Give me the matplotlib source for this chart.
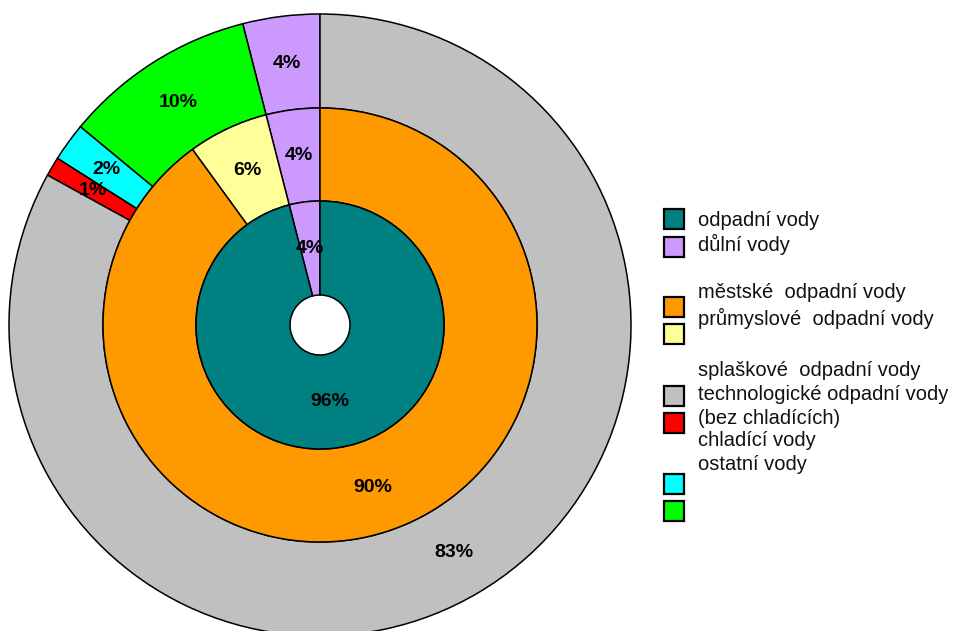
import matplotlib.pyplot as plt
from matplotlib.patches import Rectangle

# ring values (%), listed counter-clockwise from 12 o'clock
inner_labels = ["důlní vody", "odpadní vody"]
inner_values = [4, 96]
inner_colors = ["#CC99FF", "#008080"]

middle_labels = ["důlní vody", "průmyslové odpadní vody", "městské odpadní vody"]
middle_values = [4, 6, 90]
middle_colors = ["#CC99FF", "#FFFF99", "#FF9900"]

outer_labels = ["důlní vody", "ostatní vody", "chladící vody",
                "technologické odpadní vody (bez chladících)", "splaškové odpadní vody"]
outer_values = [4, 10, 2, 1, 83]
outer_colors = ["#CC99FF", "#00FF00", "#00FFFF", "#FF0000", "#C0C0C0"]

# legend: colour boxes and text lines are laid out separately
legend_box_colors = ["#008080", "#CC99FF", "#FF9900", "#FFFF99",
                     "#C0C0C0", "#FF0000", "#00FFFF", "#00FF00"]
legend_box_y = [219, 247, 307, 334, 396, 423, 484, 511]
legend_text = ["odpadní vody", "důlní vody", "městské  odpadní vody",
               "průmyslové  odpadní vody", "splaškové  odpadní vody",
               "technologické odpadní vody", "(bez chladících)",
               "chladící vody", "ostatní vody"]
legend_text_y = [220, 244, 293, 318, 370, 395, 418, 441, 465]

W, H = 964, 631
fig = plt.figure(figsize=(W / 100, H / 100), dpi=100)
ax = fig.add_axes([0, 0, 1, 1])

cx, cy = 320, 325
r_out, r_mid, r_in, r_hole = 311, 217, 124, 30
edge = dict(edgecolor="black", linewidth=1.1)
txt = dict(fontsize=14, fontweight="bold", family="Liberation Sans", color="black")

rings = [
    (outer_values, outer_colors, r_out, r_mid),
    (middle_values, middle_colors, r_mid, r_in),
    (inner_values, inner_colors, r_in, r_hole),
]
for values, colors, r1, r0 in rings:
    # y axis is inverted, so counterclock=False draws counter-clockwise on screen
    ax.pie(values, colors=colors, radius=r1, center=(cx, cy),
           startangle=-90, counterclock=False,
           wedgeprops=dict(width=r1 - r0, **edge),
           autopct=lambda p: f"{p:.0f}%",
           pctdistance=(r1 + r0) / 2 / r1, textprops=txt, frame=True)

ax.set_xlim(0, W)
ax.set_ylim(H, 0)
ax.set_aspect("equal")
ax.axis("off")

for c, y in zip(legend_box_colors, legend_box_y):
    ax.add_patch(Rectangle((664, y - 10), 20, 20, facecolor=c,
                           edgecolor="black", linewidth=1.6))
for t, y in zip(legend_text, legend_text_y):
    ax.text(698, y, t, fontsize=14.5, family="Liberation Sans",
            color="#111111", va="center", ha="left")

fig.savefig("out.png", dpi=100, facecolor="white")
